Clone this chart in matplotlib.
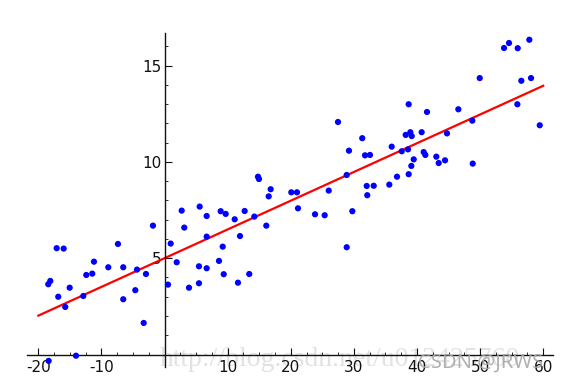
import matplotlib
matplotlib.use("Agg")
import matplotlib.pyplot as plt
from matplotlib.ticker import MultipleLocator, FixedLocator

plt.rcParams['axes.unicode_minus'] = False
plt.rcParams['font.family'] = ['DejaVu Sans']

x_vals = [-18.43, -18.11, -17.10, -15.99, -16.85, -15.74, -15.04, -14.04, -18.37, -12.88,
          -12.41, -11.46, -11.19, -8.92, -7.39, -6.55, -6.55, -4.64, -4.37, -3.31,
          -2.95, -1.84, 0.54, 0.97, 1.92, 2.71, 3.12, 3.87, 5.56, 6.67,
          6.67, 8.89, 9.21, 9.68, 11.11, 11.95, 12.69, 14.22, 14.80, 14.96,
          16.12, 16.50, 16.81, 20.08, 20.98, 21.14, 23.84, 25.37, 26.01, 27.48,
          28.86, 28.86, 29.22, 29.75, 31.32, 31.76, 32.55, 32.03, 32.12, 33.14,
          35.61, 35.99, 36.83, 37.58, 38.57, 38.68, 38.68, 38.21, 38.94, 39.16,
          39.10, 39.48, 40.74, 41.06, 41.32, 41.58, 43.06, 43.44, 44.44, 44.75,
          46.55, 48.76, 48.83, 49.94, 53.79, 54.58, 55.96, 57.80, 56.53, 58.07,
          55.90, 59.45, 5.45, 6.67, 5.45, 8.62, 9.37, 11.63, 13.42]
y_vals = [3.65, 3.82, 5.52, 5.50, 3.00, 2.47, 3.47, -0.06, -0.33, 3.04,
          4.13, 4.20, 4.82, 4.53, 5.74, 4.53, 2.87, 3.34, 4.41, 1.64,
          4.18, 6.69, 3.63, 5.76, 4.79, 7.47, 6.59, 3.47, 7.68, 7.19,
          6.12, 7.44, 5.60, 7.30, 7.02, 6.15, 7.45, 7.16, 9.23, 9.11,
          6.69, 8.21, 8.58, 8.42, 8.42, 7.59, 7.28, 7.23, 8.51, 12.07,
          9.32, 5.57, 10.58, 7.44, 11.23, 10.34, 10.36, 8.75, 8.27, 8.76,
          8.82, 10.79, 9.23, 10.55, 10.65, 9.36, 12.99, 11.40, 11.54, 11.34,
          9.79, 10.13, 11.54, 10.51, 10.36, 12.59, 10.27, 9.94, 10.08, 11.48,
          12.73, 12.14, 9.91, 14.35, 15.91, 16.17, 15.90, 16.34, 14.21, 14.35,
          12.99, 11.90, 4.58, 4.48, 3.70, 4.86, 4.17, 3.73, 4.18]

fit_x = [-20, 60]
fit_y = [2.02, 13.95]

x_major = [-20, -10, 10, 20, 30, 40, 50, 60]
y_major = [5, 10, 15]

fig = plt.figure(figsize=(5.65, 3.84), dpi=100)
ax = fig.add_axes([0.0478, 0.0451, 0.9304, 0.8695], zorder=1)
ax.patch.set_visible(False)
ax.set_xlim(-21.8, 61.5)
ax.set_ylim(-0.63, 16.7)

ax.plot(fit_x, fit_y, color='#ff0000', lw=1.6, zorder=2)
ax.scatter(x_vals, y_vals, s=20, color='#0000ff', edgecolors='none', zorder=3)

for s in ['top', 'right']:
    ax.spines[s].set_visible(False)
ax.spines['left'].set_position(('data', 0))
ax.spines['bottom'].set_position(('data', 0))
for s in ['left', 'bottom']:
    ax.spines[s].set_linewidth(1.0)
    ax.spines[s].set_color('#111111')

ax.xaxis.set_major_locator(FixedLocator(x_major))
ax.xaxis.set_minor_locator(MultipleLocator(2.5))
ax.yaxis.set_major_locator(FixedLocator(y_major))
ax.yaxis.set_minor_locator(MultipleLocator(1))
ax.tick_params(axis='both', which='major', direction='in', length=5, width=0.8,
               labelsize=11, colors='#111111')
ax.tick_params(axis='both', which='minor', direction='in', length=2.5, width=0.6,
               colors='#111111')
ax.tick_params(axis='x', which='major', pad=4)
ax.tick_params(axis='y', which='major', pad=2)

# watermarks present in the reference image
fig.text(160 / 565, 1 - 366 / 384, 'http://blog.csdn.net/u012425760', fontsize=20,
         family='Liberation Serif', color='#e2e2e2', va='baseline', zorder=0)
fig.text(418 / 565, 1 - 363 / 384, 'CSDN @JRWS', fontsize=14.5, family='Noto Sans',
         color='#a8a8a8', alpha=0.9, va='center', zorder=5)

fig.savefig('out.png', dpi=100)
